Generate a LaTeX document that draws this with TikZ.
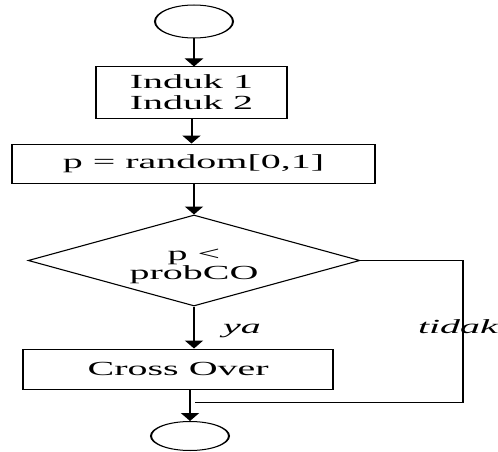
\documentclass[tikz,border=0pt]{standalone}
\usepackage{fontspec}
\setmainfont{Liberation Serif}
\usetikzlibrary{arrows.meta,shapes.geometric}
\begin{document}
\begin{tikzpicture}[x=1pt,y=-1pt,
  line width=1pt,
  flow/.style={-{Triangle[width=9pt,length=8pt]}},
  procbox/.style={draw, rectangle, inner sep=0pt, align=center,
    font=\fontsize{20}{21}\selectfont},
  terminal/.style={draw, ellipse, inner sep=0pt},
  decision/.style={draw, diamond, inner sep=0pt},
  condtext/.style={inner sep=0pt, align=center, font=\fontsize{20}{17}\selectfont},
  lbl/.style={inner sep=0pt, anchor=base west, font=\fontsize{20}{24}\selectfont\itshape}]
\useasboundingbox (0,0) rectangle (498,452);
% the whole chart is drawn twice as wide as it is set
\begin{scope}[transform canvas={xscale=2}]
  \node[terminal, minimum width=39pt, minimum height=33pt] (start) at (97,21.5) {};
  \node[procbox, minimum width=95.5pt, minimum height=51pt] (parents) at (95.75,92.5) {Induk 1\\Induk 2};
  \node[procbox, minimum width=181.5pt, minimum height=39pt] (rand) at (96.75,163.5) {p = random[0,1]};
  \node[decision, minimum width=166pt, minimum height=91pt] (dec) at (97,260.5) {};
  \node[condtext] (cond) at (97,266) {p <\\probCO};
  \node[procbox, minimum width=154.75pt, minimum height=40pt] (cross) at (89.1,369) {Cross Over};
  \node[terminal, minimum width=39pt, minimum height=29pt] (stop) at (95,436) {};

  \coordinate (tR) at (231.5,402);
  \coordinate (tJ) at (97.5,402);

  \draw[flow] (start.south) -- (start.south |- parents.north);
  \draw[flow] (parents.south) -- (parents.south |- rand.north);
  \draw[flow] (rand.south -| dec.north) -- (dec.north);
  \draw[flow] (dec.south) -- (dec.south |- cross.north);
  \draw[flow] (cross.south -| stop.north) -- (stop.north);
  \draw (dec.east) -| (tR) -- (tJ);

  \node[lbl] (yes) at (111,333) {ya};
  \node[lbl] (no) at (208.5,333) {tidak};
\end{scope}
\end{tikzpicture}
\end{document}
